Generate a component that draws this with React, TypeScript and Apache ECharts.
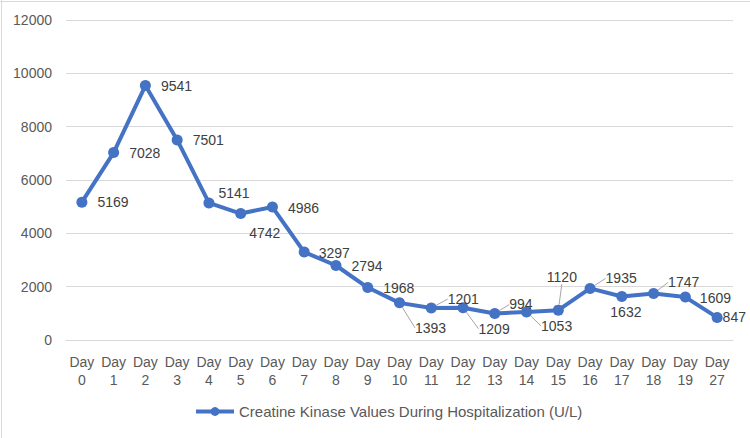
import React, { useEffect, useRef } from "react";
import * as echarts from "echarts";

const categories = ["Day\n0", "Day\n1", "Day\n2", "Day\n3", "Day\n4", "Day\n5", "Day\n6", "Day\n7", "Day\n8", "Day\n9", "Day\n10", "Day\n11", "Day\n12", "Day\n13", "Day\n14", "Day\n15", "Day\n16", "Day\n17", "Day\n18", "Day\n19", "Day\n27"];
const ckValues = [5169, 7028, 9541, 7501, 5141, 4742, 4986, 3297, 2794, 1968, 1393, 1201, 1209, 994, 1053, 1120, 1935, 1632, 1747, 1609, 847];
const seriesName = "Creatine Kinase Values During Hospitalization (U/L)";

// label offsets (styling): [dx, dy, hasLeader]
const labelShift: [number, number, boolean][] = [
  [10, 0, false], [10, 0, false], [10, 0, false], [10, 0, false], [4, -10, false],
  [3, 19, false], [10, 1, false], [9, 1, false], [10, 1, false], [10, 0, false],
  [10, 25, true], [11, -9, true], [10, 21, true], [9, -9, true], [9, 14, true],
  [-17, -33, true], [10, -10, true], [-17, 16, false], [9, -11, true], [9, 1, false],
  [0, 0, false],
];

const FONT = "'Liberation Sans', Arial, sans-serif";

export default function App() {
  const ref = useRef<HTMLDivElement>(null);
  useEffect(() => {
    document.body.style.margin = "0";
    if (!ref.current) return;
    const chart = echarts.init(ref.current, undefined, { renderer: "svg" });
    chart.setOption({
      animation: false,
      backgroundColor: "#ffffff",
      textStyle: { fontFamily: FONT },
      graphic: [
        { type: "line", shape: { x1: 1.5, y1: 0, x2: 1.5, y2: 438 }, style: { stroke: "#d9d9d9", lineWidth: 1 } },
        { type: "line", shape: { x1: 0, y1: 1.5, x2: 750, y2: 1.5 }, style: { stroke: "#d9d9d9", lineWidth: 1 } },
      ],
      grid: { left: 66, right: 17, top: 20, bottom: 98, containLabel: false },
      legend: {
        bottom: 14,
        left: 189,
        itemWidth: 38,
        itemHeight: 11,
        itemGap: 4,
        lineStyle: { width: 4 },
        textStyle: { fontSize: 15, color: "#595959", fontFamily: FONT },
        data: [seriesName],
      },
      xAxis: {
        type: "category",
        data: categories,
        boundaryGap: true,
        axisLine: { lineStyle: { color: "#d9d9d9", width: 1 } },
        axisTick: { show: false },
        axisLabel: { color: "#595959", fontSize: 14, lineHeight: 18, margin: 13, interval: 0, fontFamily: FONT },
      },
      yAxis: {
        type: "value",
        min: 0,
        max: 12000,
        interval: 2000,
        axisLine: { show: false },
        axisTick: { show: false },
        splitLine: { lineStyle: { color: "#d9d9d9", width: 1 } },
        axisLabel: { color: "#595959", fontSize: 14, margin: 14, fontFamily: FONT, formatter: (v: number) => String(v) },
      },
      series: [
        {
          name: seriesName,
          type: "line",
          data: ckValues.map((v, i) => ({
            value: v,
            labelLine: { show: labelShift[i][2] },
          })),
          symbol: "circle",
          symbolSize: 11,
          itemStyle: { color: "#4472C4" },
          lineStyle: { color: "#4472C4", width: 4 },
          label: {
            show: true,
            position: "right",
            distance: 0,
            color: "#404040",
            fontSize: 14,
            fontFamily: FONT,
            verticalAlign: "middle",
          },
          labelLine: { show: false, lineStyle: { color: "#a6a6a6", width: 1 } },
          labelLayout: (params: any) => {
            const s = labelShift[params.dataIndex] || [0, 0, false];
            return { dx: s[0], dy: s[1] };
          },
        },
      ],
    });
    return () => chart.dispose();
  }, []);
  return <div ref={ref} style={{ width: 750, height: 438 }} />;
}
